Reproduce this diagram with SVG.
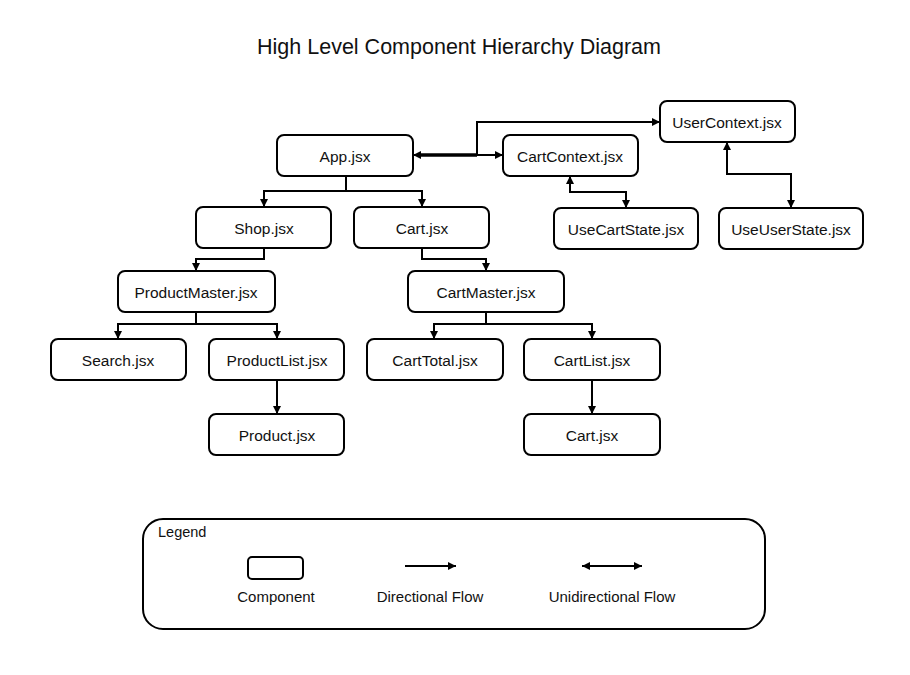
<svg xmlns="http://www.w3.org/2000/svg" width="910" height="675" viewBox="0 0 910 675">
<style>
.box{fill:#fff;stroke:#000;stroke-width:2}
.lbl{font-family:"Liberation Sans",Arial,sans-serif;font-size:15.5px;fill:#111;text-anchor:middle}
.title{font-family:"Liberation Sans",Arial,sans-serif;font-size:21.5px;fill:#111;text-anchor:middle}
.leg{font-family:"Liberation Sans",Arial,sans-serif;font-size:15px;fill:#111}
.c{fill:none;stroke:#000;stroke-width:2}
</style>
<defs>
<marker id="ah" markerUnits="userSpaceOnUse" markerWidth="10" markerHeight="10" refX="9" refY="5" orient="auto">
<path d="M1,1 L9,5 L1,9 Z" fill="#000"/>
</marker>
<marker id="as" markerUnits="userSpaceOnUse" markerWidth="10" markerHeight="10" refX="1" refY="5" orient="auto">
<path d="M9,1 L1,5 L9,9 Z" fill="#000"/>
</marker>
</defs>
<rect width="910" height="675" fill="#fff"/>
<text class="title" x="459" y="54">High Level Component Hierarchy Diagram</text>

<g id="connectors">
<path class="c" d="M346,176 V191 H264 V207" marker-end="url(#ah)"/>
<path class="c" d="M346,191 H422 V207" marker-end="url(#ah)"/>
<path class="c" d="M264,248 V259 H196 V271" marker-end="url(#ah)"/>
<path class="c" d="M422,248 V259 H486 V271" marker-end="url(#ah)"/>
<path class="c" d="M196,312 V324 H118 V339" marker-end="url(#ah)"/>
<path class="c" d="M196,324 H277 V339" marker-end="url(#ah)"/>
<path class="c" d="M277,380 V414" marker-end="url(#ah)"/>
<path class="c" d="M486,312 V324 H434 V339" marker-end="url(#ah)"/>
<path class="c" d="M486,324 H592 V339" marker-end="url(#ah)"/>
<path class="c" d="M592,380 V414" marker-end="url(#ah)"/>
<path class="c" d="M413,155 H503" marker-start="url(#as)" marker-end="url(#ah)"/>
<path d="M418,155 H477" fill="none" stroke="#000" stroke-width="3.5"/>
<path class="c" d="M477,155 V122 H660" marker-end="url(#ah)"/>
<path class="c" d="M570,176 V192 H626 V208" marker-start="url(#as)" marker-end="url(#ah)"/>
<path class="c" d="M727,142 V174 H791 V208" marker-start="url(#as)" marker-end="url(#ah)"/>
</g>

<g id="app"><rect class="box" x="277" y="135" width="136" height="41" rx="7"/><text class="lbl" x="345" y="161.5">App.jsx</text></g>
<g id="usercontext"><rect class="box" x="660" y="101" width="135" height="41" rx="7"/><text class="lbl" x="727" y="127.5">UserContext.jsx</text></g>
<g id="cartcontext"><rect class="box" x="503" y="135" width="135" height="41" rx="7"/><text class="lbl" x="570" y="161.5">CartContext.jsx</text></g>
<g id="shop"><rect class="box" x="196" y="207" width="135" height="41" rx="7"/><text class="lbl" x="264" y="233.5">Shop.jsx</text></g>
<g id="cart"><rect class="box" x="354" y="207" width="135" height="41" rx="7"/><text class="lbl" x="422" y="233.5">Cart.jsx</text></g>
<g id="usecartstate"><rect class="box" x="554" y="208" width="144" height="41" rx="7"/><text class="lbl" x="626" y="234.5">UseCartState.jsx</text></g>
<g id="useuserstate"><rect class="box" x="719" y="208" width="144" height="41" rx="7"/><text class="lbl" x="791" y="234.5">UseUserState.jsx</text></g>
<g id="productmaster"><rect class="box" x="118" y="271" width="157" height="41" rx="7"/><text class="lbl" x="196" y="297.5">ProductMaster.jsx</text></g>
<g id="cartmaster"><rect class="box" x="408" y="271" width="156" height="41" rx="7"/><text class="lbl" x="486" y="297.5">CartMaster.jsx</text></g>
<g id="search"><rect class="box" x="51" y="339" width="135" height="41" rx="7"/><text class="lbl" x="118" y="365.5">Search.jsx</text></g>
<g id="productlist"><rect class="box" x="209" y="339" width="135" height="41" rx="7"/><text class="lbl" x="277" y="365.5">ProductList.jsx</text></g>
<g id="carttotal"><rect class="box" x="367" y="339" width="136" height="41" rx="7"/><text class="lbl" x="435" y="365.5">CartTotal.jsx</text></g>
<g id="cartlist"><rect class="box" x="524" y="339" width="136" height="41" rx="7"/><text class="lbl" x="592" y="365.5">CartList.jsx</text></g>
<g id="product"><rect class="box" x="209" y="414" width="135" height="41" rx="7"/><text class="lbl" x="277" y="441">Product.jsx</text></g>
<g id="cart2"><rect class="box" x="524" y="414" width="136" height="41" rx="7"/><text class="lbl" x="592" y="441">Cart.jsx</text></g>

<g id="legend">
<rect x="143" y="519" width="622" height="110" rx="20" fill="none" stroke="#000" stroke-width="2"/>
<text class="leg" x="158" y="537" style="font-size:14.5px">Legend</text>
<rect x="248" y="557" width="55" height="22" rx="4" fill="none" stroke="#000" stroke-width="2"/>
<text class="leg" x="276" y="601.5" text-anchor="middle">Component</text>
<path class="c" d="M405,566 H456" marker-end="url(#ah)"/>
<text class="leg" x="430" y="601.5" text-anchor="middle">Directional Flow</text>
<path class="c" d="M582,566 H642" marker-start="url(#as)" marker-end="url(#ah)"/>
<text class="leg" x="612" y="601.5" text-anchor="middle">Unidirectional Flow</text>
</g>
</svg>
